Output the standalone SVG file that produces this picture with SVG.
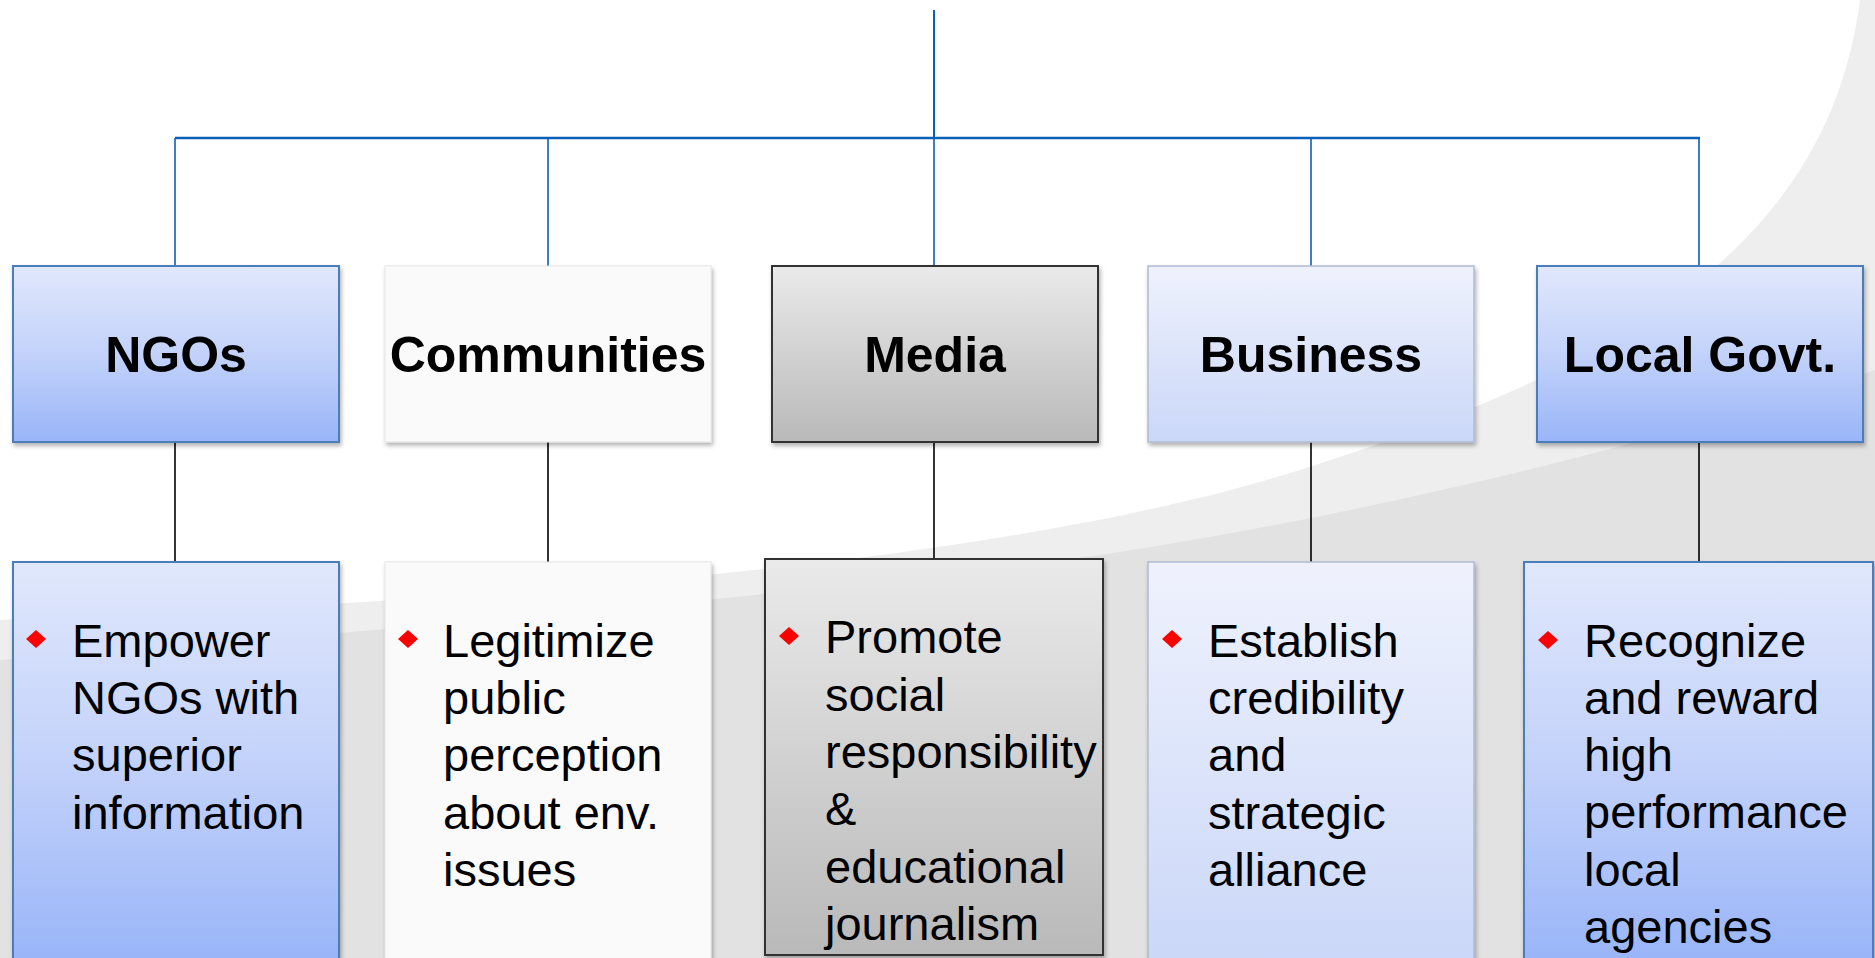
<svg xmlns="http://www.w3.org/2000/svg" width="1875" height="958" viewBox="0 0 1875 958">
  <defs>
    <linearGradient id="gBlue" x1="0" y1="0" x2="0" y2="1">
      <stop offset="0" stop-color="#e1e8fc"/>
      <stop offset="0.5" stop-color="#c3d2fa"/>
      <stop offset="1" stop-color="#99b5f8"/>
    </linearGradient>
    <linearGradient id="gLight" x1="0" y1="0" x2="0" y2="1">
      <stop offset="0" stop-color="#eff2fd"/>
      <stop offset="1" stop-color="#cad7f8"/>
    </linearGradient>
    <linearGradient id="gGrey" x1="0" y1="0" x2="0" y2="1">
      <stop offset="0" stop-color="#eaeaea"/>
      <stop offset="1" stop-color="#b9b9b9"/>
    </linearGradient>
    <filter id="sh" x="-10%" y="-10%" width="120%" height="120%">
      <feDropShadow dx="1.5" dy="3" stdDeviation="2" flood-color="#000" flood-opacity="0.3"/>
    </filter>
    <style>
      .blue { fill: url(#gBlue); stroke: #4a7ebb; stroke-width: 2; filter: url(#sh); }
      .light { fill: url(#gLight); stroke: #b0bbd2; stroke-width: 1.5; filter: url(#sh); }
      .grey { fill: url(#gGrey); stroke: #333333; stroke-width: 2; filter: url(#sh); }
      .white { fill: #fafafa; stroke: #e4e4e4; stroke-width: 1; filter: url(#sh); }
      .head { font-family: "Liberation Sans", Arial, sans-serif; font-weight: bold; font-size: 50px; fill: #000; text-anchor: middle; }
      .body { font-family: "Liberation Sans", Arial, sans-serif; font-size: 47px; fill: #000; }
      .bullet { fill: #ff0000; }
      .bl { stroke: #0a60b6; fill: none; }
      .bk { stroke: #000; stroke-width: 1.6; fill: none; }
    </style>
  </defs>

  <!-- background -->
  <rect x="0" y="0" width="1875" height="958" fill="#ffffff"/>
  <path d="M1860,0 C1830,230 1650,360 1300,470 C1000,565 500,600 0,620 L0,958 L1875,958 L1875,0 Z" fill="#eeeeee"/>
  <path d="M1875,370 C1700,430 1400,510 1100,555 C800,595 400,630 0,660 L0,958 L1875,958 Z" fill="#e2e2e2"/>

  <g id="connectors">
    <line class="bl" x1="934" y1="10" x2="934" y2="138" stroke-width="2"/>
    <line class="bl" x1="175" y1="138" x2="1700" y2="138" stroke-width="2.5"/>
    <line class="bl" x1="175" y1="138" x2="175" y2="266" stroke-width="1.6"/>
    <line class="bl" x1="548" y1="138" x2="548" y2="266" stroke-width="1.6"/>
    <line class="bl" x1="934" y1="138" x2="934" y2="266" stroke-width="1.6"/>
    <line class="bl" x1="1311" y1="138" x2="1311" y2="266" stroke-width="1.6"/>
    <line class="bl" x1="1699" y1="138" x2="1699" y2="266" stroke-width="1.6"/>
    <line class="bk" x1="175" y1="442" x2="175" y2="562"/>
    <line class="bk" x1="548" y1="442" x2="548" y2="562"/>
    <line class="bk" x1="934" y1="442" x2="934" y2="559"/>
    <line class="bk" x1="1311" y1="442" x2="1311" y2="562"/>
    <line class="bk" x1="1699" y1="442" x2="1699" y2="562"/>
  </g>

  <g id="ngos">
    <rect class="blue" x="13" y="266" width="326" height="176"/>
    <text class="head" x="176" y="372">NGOs</text>
  </g>
  <g id="communities">
    <rect class="white" x="385" y="266" width="326" height="176"/>
    <text class="head" x="548" y="372">Communities</text>
  </g>
  <g id="media">
    <rect class="grey" x="772" y="266" width="326" height="176"/>
    <text class="head" x="935" y="372">Media</text>
  </g>
  <g id="business">
    <rect class="light" x="1148" y="266" width="326" height="176"/>
    <text class="head" x="1311" y="372">Business</text>
  </g>
  <g id="localgovt">
    <rect class="blue" x="1537" y="266" width="326" height="176"/>
    <text class="head" x="1700" y="372">Local Govt.</text>
  </g>

  <g id="ngos-detail">
    <rect class="blue" x="13" y="562" width="326" height="400"/>
    <polygon class="bullet" points="36,630 46,639 36,648 26,639"/>
    <text class="body">
      <tspan x="72" y="657">Empower</tspan>
      <tspan x="72" y="714">NGOs with</tspan>
      <tspan x="72" y="771">superior</tspan>
      <tspan x="72" y="829">information</tspan>
    </text>
  </g>
  <g id="communities-detail">
    <rect class="white" x="385" y="562" width="326" height="400"/>
    <polygon class="bullet" points="408,630 418,639 408,648 398,639"/>
    <text class="body">
      <tspan x="443" y="657">Legitimize</tspan>
      <tspan x="443" y="714">public</tspan>
      <tspan x="443" y="771">perception</tspan>
      <tspan x="443" y="829">about env.</tspan>
      <tspan x="443" y="886">issues</tspan>
    </text>
  </g>
  <g id="media-detail">
    <rect class="grey" x="765" y="559" width="338" height="396"/>
    <polygon class="bullet" points="789,627 799,636 789,645 779,636"/>
    <text class="body">
      <tspan x="825" y="653">Promote</tspan>
      <tspan x="825" y="711">social</tspan>
      <tspan x="825" y="768">responsibility</tspan>
      <tspan x="825" y="825">&amp;</tspan>
      <tspan x="825" y="883">educational</tspan>
      <tspan x="825" y="940">journalism</tspan>
    </text>
  </g>
  <g id="business-detail">
    <rect class="light" x="1148" y="562" width="326" height="400"/>
    <polygon class="bullet" points="1172,630 1182,639 1172,648 1162,639"/>
    <text class="body">
      <tspan x="1208" y="657">Establish</tspan>
      <tspan x="1208" y="714">credibility</tspan>
      <tspan x="1208" y="771">and</tspan>
      <tspan x="1208" y="829">strategic</tspan>
      <tspan x="1208" y="886">alliance</tspan>
    </text>
  </g>
  <g id="localgovt-detail">
    <rect class="blue" x="1524" y="562" width="349" height="400"/>
    <polygon class="bullet" points="1548,631 1558,640 1548,649 1538,640"/>
    <text class="body">
      <tspan x="1584" y="657">Recognize</tspan>
      <tspan x="1584" y="714">and reward</tspan>
      <tspan x="1584" y="771">high</tspan>
      <tspan x="1584" y="828">performance</tspan>
      <tspan x="1584" y="886">local</tspan>
      <tspan x="1584" y="943">agencies</tspan>
    </text>
  </g>
</svg>
